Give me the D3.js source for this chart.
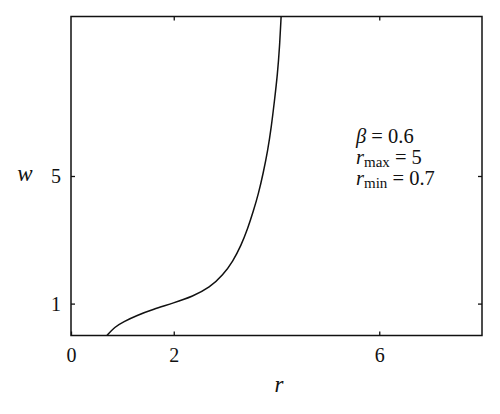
<!DOCTYPE html>
<html>
<head>
<meta charset="utf-8">
<script src="https://cdn.jsdelivr.net/npm/d3@7"></script>
<style>
  body { margin: 0; background: #fff; }
  svg { display: block; }
  .axis text { font-family: "Times New Roman", "Liberation Serif", "DejaVu Serif", Georgia, serif; font-size: 20px; fill: #111; }
  .axis line { stroke: #111; stroke-width: 1.3px; }
  .lbl { font-family: "Times New Roman", "Liberation Serif", "DejaVu Serif", Georgia, serif; font-style: italic; font-size: 23px; fill: #111; }
  .note text { font-family: "Times New Roman", "Liberation Serif", "DejaVu Serif", Georgia, serif; font-size: 20.5px; fill: #111; }
</style>
</head>
<body>
<script>
// curve (r, w)
const rVals = [0.70, 0.85, 1.02, 1.28, 1.60, 2.00, 2.37, 2.70, 2.96, 3.15, 3.31, 3.44, 3.55, 3.65, 3.74, 3.83, 3.90, 3.96, 4.02, 4.06, 4.09];
const wVals = [0.00, 0.27, 0.43, 0.63, 0.82, 1.02, 1.23, 1.50, 1.90, 2.32, 2.82, 3.35, 3.90, 4.45, 5.08, 5.80, 6.55, 7.35, 8.20, 9.05, 10.0];
const xTicks = [0, 2, 6];
const yTicks = [1, 5];
const xDomain = [0, 8];
const yDomain = [0, 10];

const margin = { top: 16.5, right: 18, bottom: 78.5, left: 71 },
      width = 500 - margin.left - margin.right,
      height = 414 - margin.top - margin.bottom;

const svg = d3.select("body").append("svg")
    .attr("width", 500)
    .attr("height", 414);

const g = svg.append("g")
    .attr("transform", `translate(${margin.left},${margin.top})`);

const x = d3.scaleLinear().domain(xDomain).range([0, width]);
const y = d3.scaleLinear().domain(yDomain).range([height, 0]);

// axes, ticks pointing inward
g.append("g").attr("class", "axis")
  .attr("transform", `translate(0,${height})`)
  .call(d3.axisBottom(x).tickValues(xTicks).tickSize(-4).tickPadding(12).tickFormat(d3.format("d")))
  .call(a => a.select(".domain").remove());

g.append("g").attr("class", "axis")
  .call(d3.axisTop(x).tickValues(xTicks.filter(d => d > 0)).tickSize(-4).tickFormat(""))
  .call(a => a.select(".domain").remove());

g.append("g").attr("class", "axis")
  .call(d3.axisLeft(y).tickValues(yTicks).tickSize(-4).tickPadding(10).tickFormat(d3.format("d")))
  .call(a => a.select(".domain").remove());

g.append("g").attr("class", "axis")
  .attr("transform", `translate(${width},0)`)
  .call(d3.axisRight(y).tickValues(yTicks).tickSize(-4).tickFormat(""))
  .call(a => a.select(".domain").remove());

// frame
g.append("rect")
  .attr("width", width)
  .attr("height", height)
  .attr("fill", "none")
  .attr("stroke", "#111")
  .attr("stroke-width", 1.5);

g.append("clipPath").attr("id", "clip")
  .append("rect").attr("width", width).attr("height", height);

const pts = rVals.map((r, i) => [r, wVals[i]]);
const line = d3.line()
  .x(d => x(d[0]))
  .y(d => y(d[1]))
  .curve(d3.curveBasis);

g.append("path")
  .datum(pts)
  .attr("clip-path", "url(#clip)")
  .attr("d", line)
  .attr("fill", "none")
  .attr("stroke", "#111")
  .attr("stroke-width", 1.5);

// axis labels
svg.append("text").attr("class", "lbl")
  .attr("x", 25).attr("y", 181)
  .attr("text-anchor", "middle")
  .text("w");

svg.append("text").attr("class", "lbl")
  .attr("x", 279).attr("y", 392)
  .attr("text-anchor", "middle")
  .text("r");

// annotation
const note = svg.append("g").attr("class", "note").attr("transform", "translate(356,0)");
note.append("text").attr("y", 143)
  .call(t => {
    t.append("tspan").style("font-style", "italic").text("β");
    t.append("tspan").text(" = 0.6");
  });
note.append("text").attr("y", 164)
  .call(t => {
    t.append("tspan").style("font-style", "italic").text("r");
    t.append("tspan").attr("dy", 3).style("font-size", "15px").text("max");
    t.append("tspan").attr("dy", -3).text(" = 5");
  });
note.append("text").attr("y", 185)
  .call(t => {
    t.append("tspan").style("font-style", "italic").text("r");
    t.append("tspan").attr("dy", 3).style("font-size", "15px").text("min");
    t.append("tspan").attr("dy", -3).text(" = 0.7");
  });
</script>
</body>
</html>
